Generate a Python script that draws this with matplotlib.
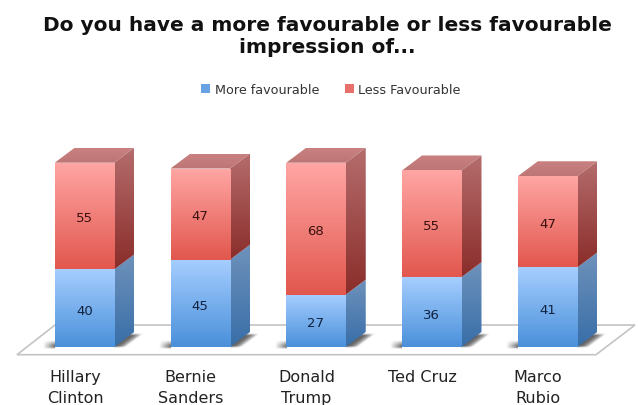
import numpy as np
import matplotlib
matplotlib.use("Agg")
import matplotlib.pyplot as plt
from matplotlib.colors import to_rgb
from matplotlib.patches import Patch, Polygon

categories = ["Hillary\nClinton", "Bernie\nSanders", "Donald\nTrump", "Ted Cruz", "Marco\nRubio"]
more_favourable = [40, 45, 27, 36, 41]
less_favourable = [55, 47, 68, 55, 47]

# figure pixels per unit on each axis
px_x = 115.75
px_y = 1.94
bar_w = 0.514
depth_x = 20 / px_x
depth_y = 15 / px_y
baseline_px = 348

blue = {"front": ("#a6ceff", "#4a90da"), "side": ("#6f92bb", "#386ea8")}
red = {"front": ("#ffa6a4", "#e2574e"), "side": ("#b56d6d", "#8a2d2a"), "top": ("#c98080", "#bd7676")}


def gradient_fill(ax, patch, top, bottom, zorder):
    ax.add_patch(patch)
    patch.set_facecolor("none")
    patch.set_edgecolor("none")
    box = patch.get_path().get_extents(patch.get_patch_transform())
    t = np.linspace(0, 1, 128)[:, None, None]
    img = (1 - t) * np.array(to_rgb(top)) + t * np.array(to_rgb(bottom))
    im = ax.imshow(img, extent=(box.x0, box.x1, box.y0, box.y1), aspect="auto",
                   origin="upper", zorder=zorder, interpolation="bilinear")
    im.set_clip_path(patch)


def shadow_fill(ax, extent, alpha, zorder):
    img = np.zeros(alpha.shape + (4,))
    img[..., :3] = 0.32
    img[..., 3] = alpha
    ax.imshow(img, extent=extent, aspect="auto", origin="lower", zorder=zorder,
              interpolation="bilinear")


fig = plt.figure(figsize=(6.38, 4.06), dpi=100)
ax = fig.add_axes([0, 0, 1, 1])
ax.axis("off")

xlim = (-84.5 / px_x, (638 - 84.5) / px_x)
ylim = (-(406 - baseline_px) / px_y, baseline_px / px_y)

# floor
floor = Polygon([(-67.5 / px_x, -7.7 / px_y), (511.5 / px_x, -7.7 / px_y),
                 (550.5 / px_x, 22 / px_y), (-29.5 / px_x, 22 / px_y)],
                closed=True, facecolor="white", edgecolor="#c4c4c4", linewidth=1.2, zorder=1)
ax.add_patch(floor)

x = np.arange(len(categories))
base = np.array(more_favourable)
total = base + np.array(less_favourable)

bars_blue = ax.bar(x, more_favourable, width=bar_w, color="none", zorder=3)
bars_red = ax.bar(x, less_favourable, bottom=more_favourable, width=bar_w, color="none", zorder=3)

for i in x:
    left = i - bar_w / 2
    right = i + bar_w / 2

    # soft shadow on the floor, right of the side face
    sx = np.linspace(right, right + depth_x + 0.1, 80)
    sy = np.linspace(-0.5, depth_y * 0.92, 40)
    gx, gy = np.meshgrid(sx, sy)
    u = (gx - right - gy / depth_y * depth_x) / 0.1
    alpha = np.clip(0.9 * (1 - u ** 2), 0, 0.9) * (u > -0.4)
    alpha = alpha * np.clip((depth_y * 0.92 - gy) / 1.2, 0, 1) * np.clip((gy + 0.5) / 1.0, 0, 1)
    shadow_fill(ax, (sx[0], sx[-1], sy[0], sy[-1]), alpha, 2)

    # and the short one on the left
    sx = np.linspace(left - 0.1, left, 40)
    sy = np.linspace(-0.8, 3.5, 30)
    gx, gy = np.meshgrid(sx, sy)
    alpha = 0.8 * ((gx - sx[0]) / 0.1) * np.clip((3.5 - gy) / 2.5, 0, 1) * np.clip((gy + 0.8) / 0.8, 0, 1)
    shadow_fill(ax, (sx[0], sx[-1], sy[0], sy[-1]), alpha, 2)

    gradient_fill(ax, bars_blue[i], *blue["front"], zorder=4)
    gradient_fill(ax, bars_red[i], *red["front"], zorder=4)

    side_blue = Polygon([(right, 0), (right + depth_x, depth_y),
                         (right + depth_x, base[i] + depth_y), (right, base[i])], closed=True)
    side_red = Polygon([(right, base[i]), (right + depth_x, base[i] + depth_y),
                        (right + depth_x, total[i] + depth_y), (right, total[i])], closed=True)
    top_face = Polygon([(left, total[i]), (right, total[i]),
                        (right + depth_x, total[i] + depth_y), (left + depth_x, total[i] + depth_y)],
                       closed=True)
    gradient_fill(ax, side_blue, *blue["side"], zorder=3)
    gradient_fill(ax, side_red, *red["side"], zorder=3)
    gradient_fill(ax, top_face, red["top"][0], red["top"][1], zorder=3)

    ax.text(i, base[i] / 2 - 1.0, str(more_favourable[i]), ha="center", va="center",
            fontsize=9.5, color="#10233f", zorder=6)
    ax.text(i, base[i] + less_favourable[i] / 2 - 0.8, str(less_favourable[i]), ha="center", va="center",
            fontsize=9.5, color="#3a1010", zorder=6)
    ax.text(i - 9.5 / px_x, -22.5 / px_y, categories[i], ha="center", va="top",
            fontsize=11.5, color="#222222", linespacing=1.42, zorder=6)

ax.set_xlim(*xlim)
ax.set_ylim(*ylim)

fig.text(327 / 638, 1 - 36.5 / 406, "Do you have a more favourable or less favourable\nimpression of...",
         ha="center", va="center", fontsize=14.5, fontweight="bold", color="#111111", linespacing=1.16)

handles = [Patch(facecolor="#69a3e3"), Patch(facecolor="#e8706a")]
fig.legend(handles, ["More favourable", "Less Favourable"], ncol=2, frameon=False,
           loc="center", bbox_to_anchor=(331 / 638, 1 - 90 / 406), fontsize=9.2,
           labelcolor="#333333", handlelength=0.7, handleheight=0.7, handletextpad=0.35,
           columnspacing=2.0)

plt.savefig("out.png", dpi=100)
plt.close()
